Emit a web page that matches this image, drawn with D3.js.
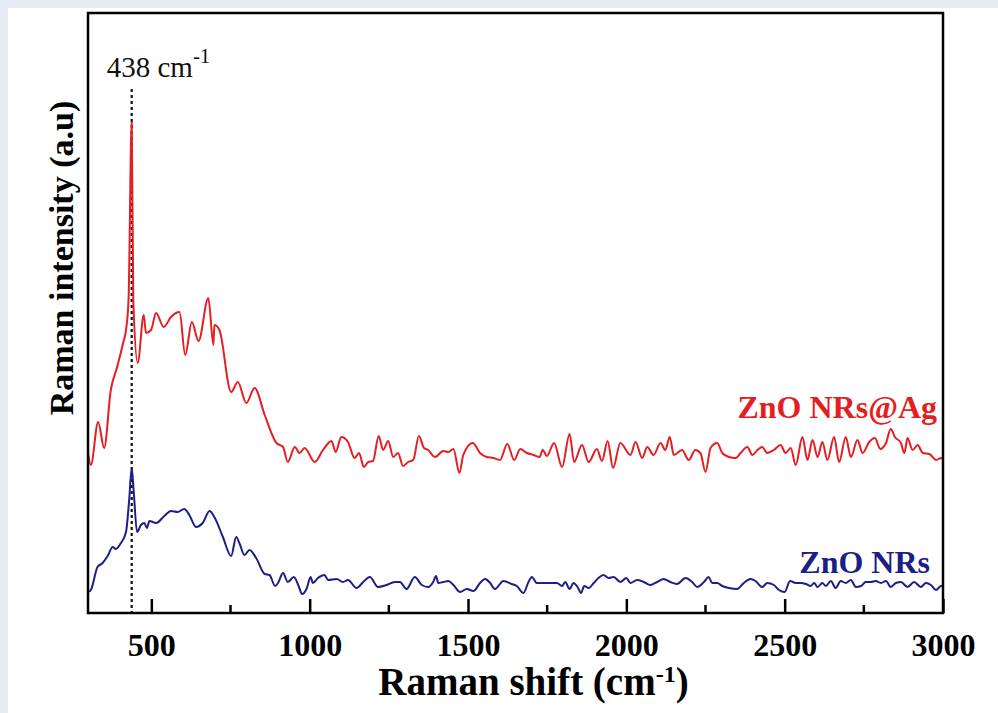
<!DOCTYPE html>
<html>
<head>
<meta charset="utf-8">
<script src="https://cdn.jsdelivr.net/npm/d3@7"></script>
<style>
  html, body { margin: 0; padding: 0; background: #e7ecf7; }
  svg { display: block; }
</style>
</head>
<body>
<div id="chart"></div>
<script>
// Raman spectra (shift in cm-1, intensity in a.u.)
var agShift = [300, 309, 332, 351, 372, 392, 411, 420, 428, 438, 443, 457, 476, 483, 499, 515, 539, 562, 589, 607, 628, 649, 680, 696, 699, 715, 752, 773, 800, 826, 858, 895, 916, 931, 953, 968, 984, 1016, 1042, 1069, 1082, 1100, 1121, 1142, 1156, 1171, 1185, 1200, 1218, 1232, 1248, 1264, 1279, 1295, 1311, 1327, 1345, 1361, 1374, 1396, 1422, 1438, 1454, 1473, 1485, 1515, 1538, 1559, 1580, 1601, 1624, 1646, 1665, 1686, 1707, 1726, 1736, 1749, 1772, 1797, 1821, 1835, 1860, 1881, 1907, 1923, 1941, 1958, 1981, 2013, 2029, 2050, 2066, 2086, 2108, 2123, 2137, 2150, 2176, 2197, 2218, 2234, 2250, 2266, 2287, 2303, 2324, 2345, 2361, 2382, 2398, 2414, 2429, 2445, 2466, 2487, 2503, 2519, 2535, 2556, 2572, 2588, 2604, 2619, 2635, 2656, 2672, 2693, 2709, 2730, 2746, 2767, 2785, 2802, 2820, 2835, 2848, 2867, 2878, 2888, 2904, 2920, 2936, 2957, 2978, 2994, 3000];
var agIntensity = [160, 148, 191, 165, 223, 246, 270, 283, 313, 491, 313, 250, 298, 280, 283, 300, 286, 296, 301, 258, 291, 272, 315, 268, 288, 283, 221, 231, 210, 225, 198, 170, 166, 151, 166, 160, 165, 151, 163, 172, 161, 176, 171, 155, 160, 146, 151, 152, 177, 163, 172, 156, 160, 147, 151, 153, 177, 165, 163, 156, 162, 161, 164, 140, 158, 170, 160, 156, 155, 153, 169, 153, 164, 160, 158, 156, 163, 157, 170, 146, 179, 151, 168, 151, 164, 152, 172, 145, 170, 158, 171, 155, 166, 158, 170, 163, 176, 158, 163, 153, 163, 160, 141, 165, 170, 160, 156, 155, 160, 166, 158, 163, 166, 160, 163, 168, 160, 165, 148, 176, 153, 173, 156, 171, 153, 176, 151, 176, 156, 173, 160, 171, 175, 164, 170, 184, 176, 170, 160, 175, 163, 168, 160, 159, 153, 155, 154];

var nrShift = [300, 309, 330, 346, 362, 378, 388, 404, 420, 430, 438, 444, 455, 467, 478, 486, 494, 515, 541, 562, 583, 604, 620, 641, 662, 684, 699, 726, 752, 768, 778, 794, 810, 831, 858, 873, 891, 900, 916, 931, 950, 965, 976, 990, 1003, 1010, 1026, 1047, 1058, 1085, 1105, 1121, 1148, 1169, 1190, 1216, 1243, 1269, 1285, 1306, 1332, 1354, 1374, 1390, 1399, 1406, 1422, 1438, 1454, 1475, 1496, 1517, 1538, 1554, 1570, 1585, 1612, 1638, 1654, 1675, 1691, 1702, 1717, 1738, 1760, 1781, 1797, 1807, 1821, 1833, 1846, 1857, 1867, 1881, 1897, 1912, 1928, 1944, 1960, 1981, 2000, 2013, 2034, 2055, 2076, 2097, 2118, 2139, 2160, 2187, 2208, 2224, 2245, 2260, 2271, 2287, 2303, 2324, 2350, 2371, 2392, 2408, 2429, 2445, 2466, 2482, 2500, 2517, 2535, 2551, 2567, 2582, 2593, 2604, 2619, 2630, 2646, 2661, 2677, 2693, 2709, 2725, 2741, 2756, 2772, 2788, 2804, 2820, 2835, 2851, 2867, 2888, 2909, 2930, 2946, 2962, 2978, 2994, 3000];
var nrIntensity = [21, 23, 46, 50, 57, 66, 64, 70, 81, 113, 145, 123, 81, 88, 90, 85, 92, 90, 97, 102, 101, 104, 98, 86, 90, 102, 96, 76, 57, 76, 70, 58, 63, 55, 39, 38, 27, 30, 40, 31, 36, 27, 19, 24, 36, 30, 35, 38, 33, 34, 31, 33, 25, 31, 36, 26, 28, 31, 31, 24, 36, 28, 26, 31, 37, 30, 31, 32, 28, 21, 24, 22, 30, 34, 30, 24, 32, 29, 27, 20, 31, 36, 30, 30, 30, 30, 27, 31, 24, 30, 26, 20, 27, 25, 30, 35, 38, 35, 36, 31, 35, 30, 33, 31, 28, 31, 34, 31, 29, 35, 31, 26, 31, 36, 30, 30, 27, 25, 24, 30, 34, 32, 26, 30, 28, 23, 21, 32, 30, 30, 29, 27, 30, 26, 30, 27, 32, 25, 32, 30, 33, 26, 27, 31, 31, 32, 30, 32, 26, 30, 31, 26, 31, 26, 30, 28, 23, 27, 27];

var xTicks = [500, 1000, 1500, 2000, 2500, 3000];
var xMinorTicks = [750, 1250, 1750, 2250, 2750];
var peakShift = 438;

var svgWidth = 998;
var svgHeight = 713;
var margin = { top: 13, right: 55, bottom: 100, left: 88 };
var width = svgWidth - margin.left - margin.right;
var height = svgHeight - margin.top - margin.bottom;

var svg = d3.select("#chart")
  .append("svg")
  .attr("width", svgWidth)
  .attr("height", svgHeight);

// white page area inside the light blue border
svg.append("rect")
  .attr("x", 8).attr("y", 8)
  .attr("width", svgWidth - 8).attr("height", svgHeight - 8)
  .attr("fill", "#ffffff");

var chartGroup = svg.append("g")
  .attr("transform", `translate(${margin.left}, ${margin.top})`);

var xScale = d3.scaleLinear().domain([300, 3000]).range([0, width]);
var yScale = d3.scaleLinear().domain([0, 600]).range([height, 0]);

var line = d3.line()
  .x(d => xScale(d[0]))
  .y(d => yScale(d[1]))
  .curve(d3.curveMonotoneX);

var agData = agShift.map((s, i) => [s, agIntensity[i]]);
var nrData = nrShift.map((s, i) => [s, nrIntensity[i]]);

// dotted marker line at the E2(high) peak
chartGroup.append("line")
  .attr("x1", xScale(peakShift)).attr("x2", xScale(peakShift))
  .attr("y1", 76).attr("y2", height)
  .attr("stroke", "#111")
  .attr("stroke-width", 2.2)
  .attr("stroke-dasharray", "3,3");

chartGroup.append("path")
  .datum(agData)
  .attr("d", line)
  .attr("fill", "none")
  .attr("stroke", "#e41e22")
  .attr("stroke-width", 2);

chartGroup.append("path")
  .datum(nrData)
  .attr("d", line)
  .attr("fill", "none")
  .attr("stroke", "#1c1f86")
  .attr("stroke-width", 2);

// bottom axis: inward ticks, bold serif labels
var xAxis = d3.axisBottom(xScale)
  .tickValues(xTicks)
  .tickSize(-14)
  .tickPadding(20)
  .tickFormat(d3.format("d"));

var axisG = chartGroup.append("g")
  .attr("transform", `translate(0, ${height})`)
  .call(xAxis);
axisG.select(".domain").remove();
axisG.selectAll(".tick line").attr("stroke", "#000").attr("stroke-width", 2.5);
axisG.selectAll(".tick text")
  .attr("fill", "#000")
  .style("font-family", "'Liberation Serif', 'Times New Roman', serif")
  .style("font-weight", "bold")
  .style("font-size", "32px");

chartGroup.append("g")
  .selectAll("line")
  .data(xMinorTicks)
  .enter()
  .append("line")
  .attr("x1", d => xScale(d)).attr("x2", d => xScale(d))
  .attr("y1", height).attr("y2", height - 8)
  .attr("stroke", "#000")
  .attr("stroke-width", 2.5);

// frame
chartGroup.append("rect")
  .attr("width", width).attr("height", height)
  .attr("fill", "none")
  .attr("stroke", "#000")
  .attr("stroke-width", 2.5);

var serif = "'Liberation Serif', 'Times New Roman', serif";

// x axis title
var xTitle = chartGroup.append("text")
  .attr("x", width / 2 + 18)
  .attr("y", height + 82)
  .attr("text-anchor", "middle")
  .style("font-family", serif)
  .style("font-weight", "bold")
  .style("font-size", "39px")
  .attr("fill", "#000");
xTitle.append("tspan").text("Raman shift (cm");
xTitle.append("tspan").attr("dy", -13).style("font-size", "24px").text("-1");
xTitle.append("tspan").attr("dy", 13).text(")");

// y axis title
chartGroup.append("text")
  .attr("transform", "rotate(-90)")
  .attr("x", -245)
  .attr("y", -15)
  .attr("text-anchor", "middle")
  .style("font-family", serif)
  .style("font-weight", "bold")
  .style("font-size", "34px")
  .attr("fill", "#000")
  .text("Raman intensity (a.u)");

// peak annotation
var peakLabel = chartGroup.append("text")
  .attr("x", xScale(peakShift) - 25)
  .attr("y", 64)
  .style("font-family", serif)
  .style("font-size", "29px")
  .attr("fill", "#111");
peakLabel.append("tspan").text("438 cm");
peakLabel.append("tspan").attr("dy", -14).style("font-size", "21px").text("-1");

// series labels
chartGroup.append("text")
  .attr("x", width - 6)
  .attr("y", 405)
  .attr("text-anchor", "end")
  .style("font-family", serif)
  .style("font-weight", "bold")
  .style("font-size", "32px")
  .attr("fill", "#e41e22")
  .text("ZnO NRs@Ag");

chartGroup.append("text")
  .attr("x", width - 13)
  .attr("y", 560)
  .attr("text-anchor", "end")
  .style("font-family", serif)
  .style("font-weight", "bold")
  .style("font-size", "32px")
  .attr("fill", "#1c1f86")
  .text("ZnO NRs");
</script>
</body>
</html>
